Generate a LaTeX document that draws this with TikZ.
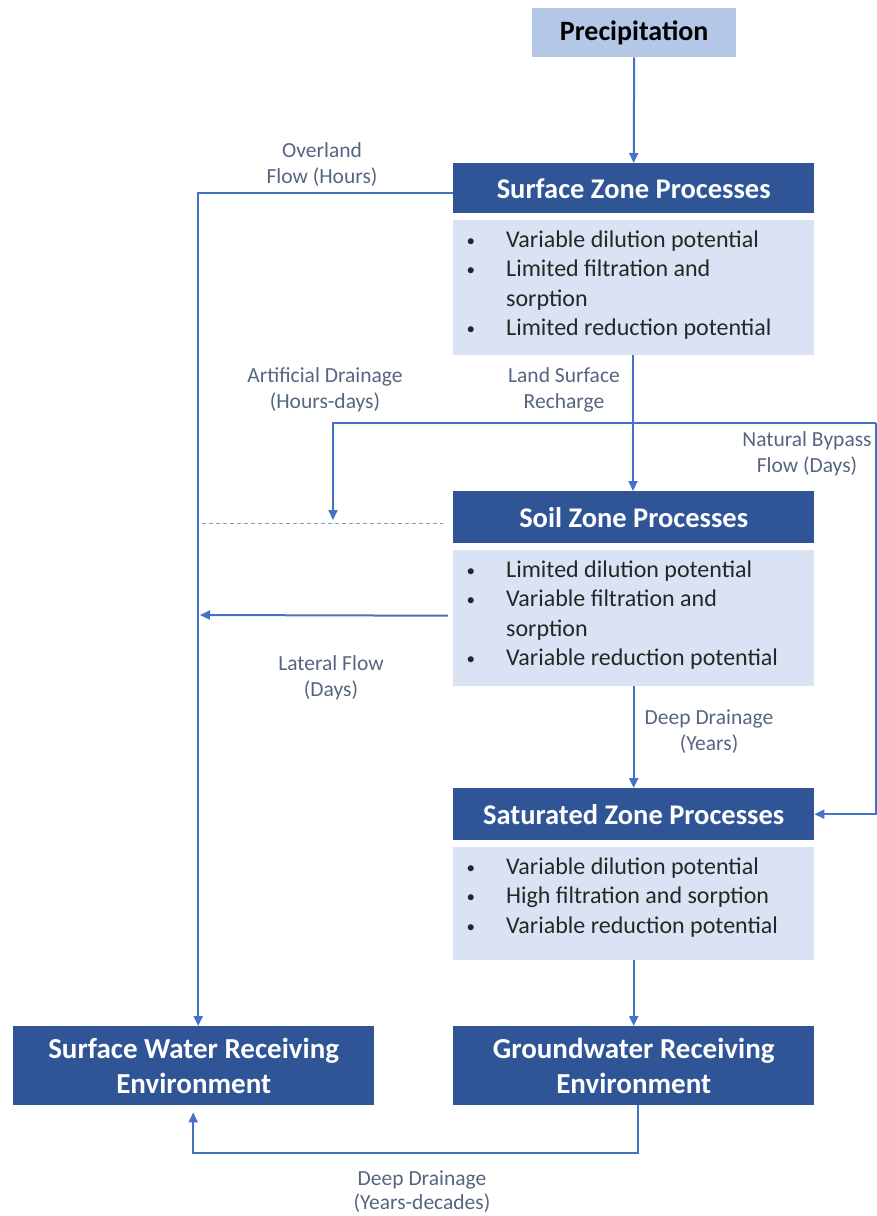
\documentclass[tikz,border=0pt]{standalone}
\usepackage{fontspec}
\setmainfont{Carlito}
\usetikzlibrary{arrows.meta}
\definecolor{hdr}{HTML}{2F5597}
\definecolor{bodyfill}{HTML}{DAE3F3}
\definecolor{precfill}{HTML}{B4C7E7}
\definecolor{link}{HTML}{4472C4}
\definecolor{lbl}{HTML}{56657F}
\definecolor{txt}{HTML}{262626}
\definecolor{dashgrey}{HTML}{8C9AAE}
\newcommand{\bul}{\makebox[41pt][l]{\hspace{1.5pt}\raisebox{1pt}{\fontsize{17}{20}\selectfont •}}}
\newcommand{\cont}{\hspace*{41pt}}
\begin{document}
\begin{tikzpicture}[x=1pt,y=-1pt,
  hdrbox/.style={fill=hdr, text=white, font=\fontsize{28.5}{32}\selectfont\bfseries,
    inner sep=0pt, minimum width=361pt, minimum height=50pt, anchor=north west},
  envbox/.style={hdrbox, align=center, minimum height=79pt, font=\fontsize{29}{35}\selectfont\bfseries},
  bodybox/.style={fill=bodyfill, inner sep=0pt, minimum width=361pt, anchor=north west},
  bodytext/.style={text=txt, inner sep=0pt, anchor=base west,
    font=\fontsize{24}{29.5}\selectfont},
  lab/.style={text=lbl, align=center, inner sep=0pt, font=\fontsize{21.5}{26}\selectfont},
  flow/.style={draw=link, line width=2pt, -{Triangle[length=10pt,width=9pt]}},
  plain/.style={draw=link, line width=2pt},
]
\useasboundingbox (0,0) rectangle (877,1216);

% process boxes
\node[fill=precfill, text=black, font=\fontsize{28}{32}\selectfont\bfseries,
  inner sep=0pt, minimum width=204pt, minimum height=49pt, anchor=north west]
  (prec) at (532,8) {Precipitation};

\node[hdrbox] (sh) at (453,163) {Surface Zone Processes};
\node[bodybox, minimum height=135pt] (sb) at (453,220) {};
\node[bodytext] (sbt) at (465,247) {\parbox[t]{340pt}{%
  \bul Variable dilution potential\\
  \bul Limited filtration and\\
  \cont sorption\\
  \bul Limited reduction potential}};

\node[hdrbox, minimum height=52pt] (soh) at (453,491) {Soil Zone Processes};
\node[bodybox, minimum height=136pt] (sob) at (453,550) {};
\node[bodytext] (sobt) at (465,577) {\parbox[t]{340pt}{%
  \bul Limited dilution potential\\
  \bul Variable filtration and\\
  \cont sorption\\
  \bul Variable reduction potential}};

\node[hdrbox, minimum height=52pt] (sah) at (453,788) {Saturated Zone Processes};
\node[bodybox, minimum height=113pt] (sab) at (453,847) {};
\node[bodytext] (sabt) at (465,874) {\parbox[t]{340pt}{%
  \bul Variable dilution potential\\
  \bul High filtration and sorption\\
  \bul Variable reduction potential}};

\node[envbox] (sw) at (13,1026) {Surface Water Receiving\\Environment};
\node[envbox] (gw) at (453,1026) {Groundwater Receiving\\Environment};

% helper points for the bypass and drainage lines
\coordinate (split) at (633,423);
\coordinate (edge) at (876,423);
\coordinate (dashL) at (202,523);
\coordinate (dashR) at (443,523);
\coordinate (artTip) at (333,520);
\coordinate (latTip) at (200,615);

% connectors
\draw[flow] (prec.south) -- (sh.north);
\draw[flow] ([yshift=-5pt]sh.west) -| ([xshift=4.5pt]sw.north);
\draw[flow] (sb.south -| split) -- (soh.north -| split);
\draw[flow] (split) -| (artTip);
\draw[plain] (split) -- (edge);
\draw[flow] (edge) |- (sah.east);
\draw[dashgrey, line width=1pt, dash pattern=on 4pt off 3pt] (dashL) -- (dashR);
\draw[flow] ([xshift=-5pt,yshift=2.5pt]sob.west) -- (latTip);
\draw[flow] (sob.south) -- (sah.north);
\draw[flow] (sab.south) -- (gw.north);
\draw[flow] ([xshift=4.5pt]gw.south) -- ++(0,48) -| ([xshift=-0.5pt,yshift=-7pt]sw.south);

% flow labels
\node[lab] (l1) at (322,165) {Overland\\Flow (Hours)};
\node[lab] (l2) at (325,390) {Artificial Drainage\\(Hours-days)};
\node[lab] (l3) at (564,390) {Land Surface\\Recharge};
\node[lab] (l4) at (807,454) {Natural Bypass\\Flow (Days)};
\node[lab] (l5) at (331,678) {Lateral Flow\\(Days)};
\node[lab] (l6) at (709,732) {Deep Drainage\\(Years)};
\node[lab, font=\fontsize{21.5}{24}\selectfont] (l7) at (422,1192) {Deep Drainage\\(Years-decades)};
\end{tikzpicture}
\end{document}
